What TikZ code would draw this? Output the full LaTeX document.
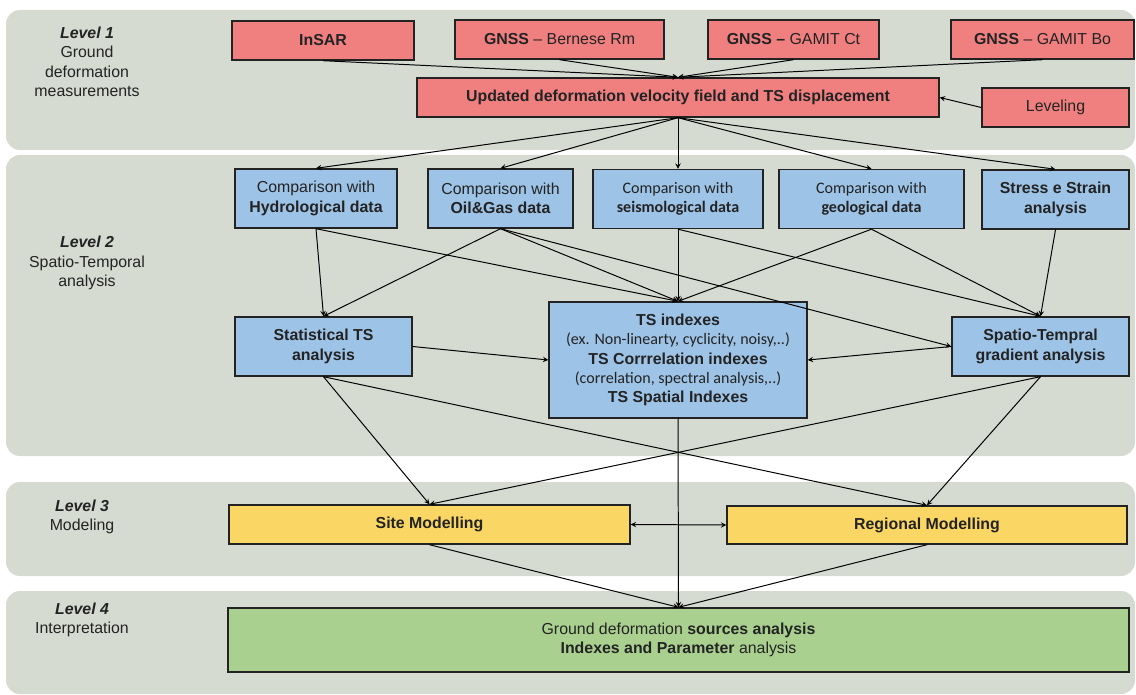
\documentclass[tikz,border=0pt]{standalone}
\usepackage{fontspec}
\setmainfont{Liberation Sans}
\newfontfamily\calib{Carlito}
\usepackage{xcolor}
\usetikzlibrary{calc}

\definecolor{bandgray}{RGB}{214,219,210}
\definecolor{boxred}{RGB}{240,128,128}
\definecolor{boxblue}{RGB}{157,195,230}
\definecolor{boxyellow}{RGB}{250,214,100}
\definecolor{boxgreen}{RGB}{169,208,142}
\definecolor{inkgray}{RGB}{35,35,35}

\tikzset{
  band/.style={fill=bandgray, rounded corners=0.35cm},
  box/.style={draw=inkgray, line width=1pt, inner sep=0pt, align=center, text=inkgray,
    font=\fontsize{11.3}{13.9}\selectfont},
  sz/.style 2 args={minimum width=#1*0.025cm, minimum height=#2*0.025cm},
  redbox/.style={box, fill=boxred},
  bluebox/.style={box, fill=boxblue},
  yellowbox/.style={box, fill=boxyellow},
  greenbox/.style={box, fill=boxgreen},
  lvl/.style={align=center, text=inkgray, inner sep=0pt, font=\fontsize{11.3}{13.9}\selectfont},
  arr/.style={-stealth, line width=0.7pt, black}
}

\begin{document}
\begin{tikzpicture}[x=0.025cm, y=-0.025cm]
    \useasboundingbox (0,0) rectangle (1136,695);

    % level bands
    \fill[band] (6,10) rectangle (1135,150);
    \fill[band] (6,155) rectangle (1135,456);
    \fill[band] (6,482) rectangle (1135,576);
    \fill[band] (6,591) rectangle (1135,694);

    \node[lvl] (lvlA) at (87,62) {\textbf{\textit{Level 1}}\\Ground\\deformation\\measurements};
    \node[lvl] (lvlB) at (87,263) {\textbf{\textit{Level 2}}\\Spatio-Temporal\\analysis};
    \node[lvl] (lvlC) at (82,517) {\textbf{\textit{Level 3}}\\Modeling};
    \node[lvl] (lvlD) at (82,620) {\textbf{\textit{Level 4}}\\Interpretation};

    % level 1
    \node[redbox, sz={182}{39}] (insar) at (323,40.5) {\textbf{InSAR}};
    \node[redbox, sz={209}{39}] (bern) at (559.5,39.5) {\textbf{GNSS} -- Bernese Rm};
    \node[redbox, sz={171}{39}] (ct) at (793.5,39.5) {\textbf{GNSS --} GAMIT Ct};
    \node[redbox, sz={183}{39}] (bo) at (1042.5,39.5) {\textbf{GNSS} -- GAMIT Bo};
    \node[redbox, sz={522}{39}] (upd) at (678,97.5) {\textbf{Updated deformation velocity field and TS displacement}};
    \node[redbox, sz={147}{39}] (lev) at (1055.5,107.5) {Leveling};

    % level 2
    \node[bluebox, sz={162}{59}] (hydro) at (316,198.5) {Comparison with\\\textbf{Hydrological data}};
    \node[bluebox, sz={145}{59}] (oil) at (500.5,198.5) {Comparison with\\\textbf{Oil\&Gas data}};
    \node[bluebox, sz={170}{59}, font=\calib\fontsize{11.4}{13.9}\selectfont] (seis) at (678,199) {Comparison with\\\textbf{seismological data}};
    \node[bluebox, sz={185}{59}, font=\calib\fontsize{11.4}{13.9}\selectfont] (geo) at (871.5,199) {Comparison with\\\textbf{geological data}};
    \node[bluebox, sz={147}{59}] (stress) at (1055.5,199.5) {\textbf{Stress e Strain}\\\textbf{analysis}};

    \node[bluebox, sz={177}{59}] (stat) at (323.5,346.5) {\textbf{Statistical TS}\\\textbf{analysis}};
    \node[bluebox, sz={258}{116}, font=\fontsize{11.3}{13.7}\selectfont] (ts) at (678,360) {\textbf{TS indexes}\\{\calib\fontsize{11.4}{13.7}\selectfont(ex. Non-linearty, cyclicity, noisy,..)}\\\textbf{TS Corrrelation indexes}\\{\calib\fontsize{11.4}{13.7}\selectfont(correlation, spectral analysis,..)}\\\textbf{TS Spatial Indexes}};
    \node[bluebox, sz={177}{59}] (spatio) at (1040.5,346.5) {\textbf{Spatio-Tempral}\\\textbf{gradient analysis}};

    % level 3 and 4
    \node[yellowbox, sz={401}{39}] (site) at (429.5,524.5) {\textbf{Site Modelling}};
    \node[yellowbox, sz={400}{38}] (reg) at (927,525) {\textbf{Regional Modelling}};
    \node[greenbox, sz={901}{64}] (green) at (678.5,640) {Ground deformation \textbf{sources analysis}\\\textbf{Indexes and Parameter} analysis};

    % connectors
    \draw[arr] (insar.south) -- (upd.north);
    \draw[arr] (bern.south) -- (upd.north);
    \draw[arr] (ct.south) -- (upd.north);
    \draw[arr] (bo.south) -- (upd.north);
    \draw[arr] (lev.west) -- (upd.east);

    \draw[arr] (upd.south) -- (hydro.north);
    \draw[arr] (upd.south) -- (oil.north);
    \draw[arr] (upd.south) -- (seis.north);
    \draw[arr] (upd.south) -- (geo.north);
    \draw[arr] (upd.south) -- (stress.north);

    \draw[arr] (hydro.south) -- (stat.north);
    \draw[arr] (hydro.south) -- (ts.north);
    \draw[arr] (oil.south) -- (stat.north);
    \draw[arr] (oil.south) -- (ts.north);
    \draw[arr] (oil.south) -- (spatio.west);
    \draw[arr] (seis.south) -- (ts.north);
    \draw[arr] (seis.south) -- (spatio.north);
    \draw[arr] (geo.south) -- (ts.north);
    \draw[arr] (geo.south) -- (spatio.north);
    \draw[arr] (stress.south) -- (spatio.north);
    \draw[arr] (stat.east) -- (ts.west);
    \draw[arr] (spatio.west) -- (ts.east);

    \draw[arr] (stat.south) -- (site.north);
    \draw[arr] (stat.south) -- (reg.north);
    \draw[arr] (spatio.south) -- (site.north);
    \draw[arr] (spatio.south) -- (reg.north);
    \draw[arr] (ts.south) -- (green.north);
    \draw[arr, stealth-stealth] (site.east) -- (reg.west);
    \draw[arr] (site.south) -- (green.north);
    \draw[arr] (reg.south) -- (green.north);
\end{tikzpicture}
\end{document}
